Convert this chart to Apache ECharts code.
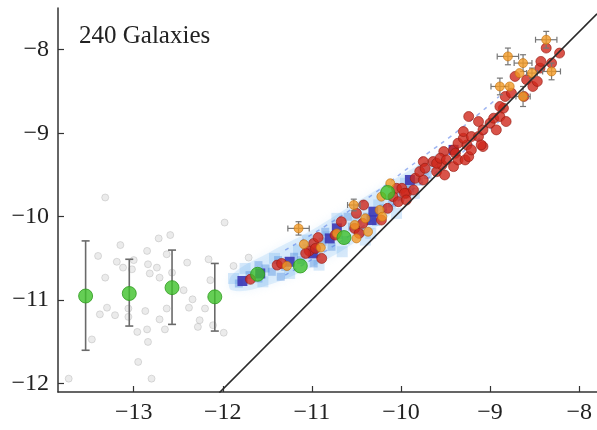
<!DOCTYPE html>
<html>
<head>
<meta charset="utf-8">
<script src="https://cdn.jsdelivr.net/npm/echarts@6/dist/echarts.min.js"></script>
<style>
  html, body { margin: 0; padding: 0; background: #fff; }
  #chart { width: 597px; height: 430px; }
</style>
</head>
<body>
<div id="chart"></div>
<script>
// tick labels
var xTicks = [-13, -12, -11, -10, -9, -8];
var yTicks = [-12, -11, -10, -9, -8];

// faint grey points (low acceleration)
var greyPts = [
  [-13.32, -9.77], [-11.98, -10.07], [-13.40, -10.47], [-13.15, -10.34], [-12.72, -10.26],
  [-12.59, -10.22], [-12.85, -10.41], [-13.19, -10.54], [-13.12, -10.61], [-13.02, -10.63],
  [-13.00, -10.52], [-12.84, -10.57], [-12.74, -10.61], [-12.82, -10.68], [-12.71, -10.73],
  [-13.32, -10.73], [-12.63, -10.45], [-12.40, -10.55], [-12.16, -10.51], [-11.88, -10.59],
  [-12.44, -10.88], [-12.57, -10.67], [-13.30, -11.09], [-13.38, -11.17], [-13.21, -11.18],
  [-13.06, -11.10], [-13.06, -11.20], [-12.87, -11.13], [-12.85, -11.35], [-12.96, -11.38],
  [-12.71, -11.23], [-12.65, -11.35], [-12.63, -11.10], [-12.38, -11.09], [-12.34, -10.99],
  [-12.20, -11.10], [-12.26, -11.24], [-12.28, -11.32], [-12.11, -11.30], [-11.99, -11.39],
  [-12.84, -11.50], [-13.47, -11.47], [-12.95, -11.74], [-13.73, -11.94], [-12.80, -11.94],
  [-12.14, -10.76], [-11.71, -10.49]
];

// binned green means with error bars
var greenX = [-13.54, -13.05, -12.57, -12.09, -11.61, -11.13, -10.64, -10.15];
var greenY = [-10.95, -10.92, -10.85, -10.96, -10.69, -10.59, -10.25, -9.71];
var greenLo = [-11.60, -11.31, -11.29, -11.37, null, null, null, null];
var greenHi = [-10.29, -10.51, -10.40, -10.56, null, null, null, null];

// red points
var redPts = [
  [-11.69, -10.75], [-11.39, -10.58], [-11.34, -10.56], [-11.03, -10.41], [-10.98, -10.32],
  [-10.93, -10.25], [-11.07, -10.44], [-10.96, -10.38], [-10.89, -10.50], [-10.74, -10.22],
  [-10.67, -10.06], [-10.50, -9.96], [-10.42, -9.86], [-10.43, -10.08], [-10.52, -10.14],
  [-10.47, -10.20], [-10.22, -10.04], [-10.15, -9.90], [-10.09, -9.76], [-10.05, -9.66],
  [-9.99, -9.66], [-9.94, -9.72], [-10.03, -9.82], [-9.96, -9.72], [-9.94, -9.80],
  [-9.86, -9.68], [-9.84, -9.54], [-9.75, -9.56], [-9.79, -9.46], [-9.60, -9.46],
  [-9.51, -9.50], [-9.54, -9.38], [-9.64, -9.34], [-9.75, -9.34], [-9.73, -9.42],
  [-9.60, -9.36], [-9.52, -9.22], [-9.56, -9.30], [-9.49, -9.32], [-9.41, -9.40],
  [-9.41, -9.20], [-9.39, -9.24], [-9.36, -9.12], [-9.36, -9.32], [-9.28, -9.32],
  [-9.26, -9.14], [-9.30, -9.06], [-9.30, -8.98], [-9.21, -9.04], [-9.24, -9.28],
  [-9.21, -9.20], [-9.13, -9.04], [-9.08, -9.16], [-9.10, -9.14], [-9.08, -8.96],
  [-9.13, -8.86], [-9.24, -8.80], [-9.00, -8.88], [-8.96, -8.82], [-8.93, -8.96],
  [-8.89, -8.80], [-8.85, -8.70], [-8.82, -8.86], [-8.89, -8.68], [-8.83, -8.56],
  [-8.76, -8.52], [-8.72, -8.32], [-8.59, -8.36], [-8.52, -8.44], [-8.47, -8.38],
  [-8.62, -8.56], [-8.44, -8.22], [-8.43, -8.14], [-8.31, -8.16], [-8.22, -8.04],
  [-8.37, -7.98]
];

// orange points: x, y, x error, y error
var orangePts = [
  [-11.15, -10.14, 0.12, 0.08], [-11.09, -10.33, 0, 0], [-11.28, -10.59, 0, 0],
  [-10.90, -10.37, 0, 0], [-10.72, -10.20, 0, 0], [-10.53, -9.86, 0.07, 0.07],
  [-10.52, -10.10, 0, 0], [-10.40, -10.02, 0, 0], [-10.37, -10.18, 0, 0],
  [-10.24, -9.92, 0, 0], [-10.22, -9.76, 0, 0], [-10.12, -9.60, 0, 0],
  [-10.50, -10.26, 0, 0], [-10.21, -10.00, 0, 0],
  [-8.37, -7.88, 0.12, 0.10], [-8.80, -8.08, 0.12, 0.10], [-8.63, -8.16, 0.10, 0.10],
  [-8.31, -8.26, 0.10, 0.10], [-8.53, -8.28, 0.06, 0.06], [-8.67, -8.28, 0, 0],
  [-8.89, -8.44, 0.10, 0.10], [-8.78, -8.44, 0, 0], [-8.63, -8.56, 0.08, 0.12]
];

// purple squares
var purplePts = [
  [-11.78, -10.77], [-11.58, -10.68], [-11.25, -10.54], [-10.99, -10.44], [-10.80, -10.26],
  [-10.72, -10.14], [-10.33, -10.04], [-10.31, -9.94], [-9.90, -9.56], [-9.41, -9.20]
];

// blue density cloud
var bandPoly = [
  [-11.90, -10.70], [-11.50, -10.44], [-11.00, -10.16], [-10.55, -9.86], [-10.15, -9.60],
  [-9.80, -9.38], [-9.50, -9.20], [-9.50, -9.30], [-9.80, -9.54], [-10.15, -10.00],
  [-10.55, -10.33], [-11.00, -10.60], [-11.50, -10.82], [-11.90, -10.88]
];
var bandCells = [
  [-11.82, -10.80], [-11.70, -10.70], [-11.60, -10.74], [-11.52, -10.62], [-11.45, -10.66],
  [-11.38, -10.52], [-11.30, -10.60], [-11.20, -10.48], [-11.12, -10.52], [-11.05, -10.38],
  [-10.95, -10.44], [-10.88, -10.30], [-10.78, -10.36], [-10.70, -10.22], [-10.62, -10.28],
  [-10.55, -10.12], [-10.45, -10.18], [-10.38, -10.00], [-10.28, -10.06], [-10.20, -9.90],
  [-10.10, -9.84], [-10.00, -9.76], [-9.90, -9.66], [-9.80, -9.58], [-9.70, -9.50],
  [-11.60, -10.58], [-11.35, -10.72], [-10.98, -10.56], [-10.60, -10.00], [-10.85, -10.18]
];
var bandHaze = [
  [-11.75, -10.62], [-11.55, -10.78], [-11.42, -10.50], [-11.25, -10.68], [-11.15, -10.40],
  [-10.92, -10.58], [-10.82, -10.24], [-10.66, -10.42], [-10.50, -10.04], [-10.34, -10.20],
  [-10.25, -9.86], [-10.05, -9.96], [-9.95, -9.60], [-9.75, -9.44], [-9.62, -9.40],
  [-11.88, -10.74], [-11.05, -10.28], [-10.72, -10.02], [-10.40, -10.28], [-9.85, -9.72]
];
var dashUpper = [[-11.30, -10.40], [-10.80, -10.08], [-10.30, -9.72], [-9.80, -9.32], [-9.30, -8.92], [-8.90, -8.56]];
var dashLower = [[-11.30, -10.70], [-10.80, -10.38], [-10.30, -10.02], [-9.80, -9.62], [-9.30, -9.22], [-8.90, -8.86]];

// one-to-one line
var oneToOne = [[-12.04, -12.11], [-7.80, -7.57]];

var minus = function (v) { return String(v).replace('-', '\u2212'); };
var axisFont = { fontFamily: 'Liberation Serif', fontSize: 24, color: '#222' };

var greenBars = [];
for (var i = 0; i < greenX.length; i++) {
  if (greenLo[i] !== null) greenBars.push([greenX[i], greenY[i], greenLo[i], greenHi[i]]);
}
var greenData = greenX.map(function (x, i) { return [x, greenY[i]]; });

var chart = echarts.init(document.getElementById('chart'));
var option = {
  animation: false,
  grid: { left: 58, right: 0, top: 8, bottom: 38 },
  xAxis: {
    type: 'value', min: -13.85, max: -7.8,
    axisLine: { onZero: false, lineStyle: { color: '#333', width: 1.5 } },
    axisTick: { inside: true, length: 6, customValues: xTicks, lineStyle: { color: '#333', width: 1.2 } },
    axisLabel: Object.assign({ customValues: xTicks, margin: 9, formatter: minus }, axisFont),
    splitLine: { show: false }
  },
  yAxis: {
    type: 'value', min: -12.1, max: -7.5,
    axisLine: { onZero: false, lineStyle: { color: '#333', width: 1.5 } },
    axisTick: { inside: true, length: 6, customValues: yTicks, lineStyle: { color: '#333', width: 1.2 } },
    axisLabel: Object.assign({ customValues: yTicks, margin: 9, formatter: minus }, axisFont),
    splitLine: { show: false }
  },
  graphic: [{
    type: 'text', left: 79, top: 24,
    style: { text: '240 Galaxies', fontFamily: 'Liberation Serif', fontSize: 25, fill: '#222' }
  }],
  series: [
    {
      type: 'custom', z: 1, silent: true,
      data: bandPoly,
      renderItem: function (params, api) {
        if (params.dataIndex !== 0) return null;
        return {
          type: 'polygon',
          shape: { points: bandPoly.map(function (p) { return api.coord(p); }), smooth: 0.4 },
          style: { fill: 'rgba(160,205,245,0.3)', shadowBlur: 8, shadowColor: 'rgba(160,205,245,0.6)' }
        };
      }
    },
    {
      type: 'scatter', z: 2, data: bandHaze, symbol: 'rect', symbolSize: 11,
      itemStyle: { color: 'rgba(90,165,235,0.3)' }
    },
    {
      type: 'scatter', z: 2, data: bandCells, symbol: 'rect', symbolSize: 8,
      itemStyle: { color: 'rgba(45,115,215,0.4)' }
    },
    {
      type: 'scatter', z: 2, data: greyPts, symbolSize: 7,
      itemStyle: { color: 'rgba(205,205,205,0.5)', borderColor: 'rgba(165,165,165,0.45)', borderWidth: 1 }
    },
    {
      type: 'line', z: 3, data: dashUpper, symbol: 'none', smooth: true,
      lineStyle: { color: 'rgba(80,120,230,0.55)', width: 1.5, type: [4, 5] }
    },
    {
      type: 'line', z: 3, data: dashLower, symbol: 'none', smooth: true,
      lineStyle: { color: 'rgba(80,120,230,0.55)', width: 1.5, type: [4, 5] }
    },
    {
      type: 'scatter', z: 4, data: purplePts, symbol: 'rect', symbolSize: 10,
      itemStyle: { color: '#3b37b5', opacity: 0.9 }
    },
    {
      type: 'scatter', z: 5, data: redPts, symbolSize: 10,
      itemStyle: { color: '#d0281c', borderColor: '#951a12', borderWidth: 0.8 }
    },
    {
      type: 'custom', z: 6, data: orangePts, encode: { x: 0, y: 1 },
      renderItem: function (params, api) {
        var x = api.value(0), y = api.value(1), ex = api.value(2), ey = api.value(3);
        if (!ex && !ey) return null;
        var l = api.coord([x - ex, y]), r = api.coord([x + ex, y]);
        var t = api.coord([x, y + ey]), b = api.coord([x, y - ey]);
        var st = { stroke: '#777', lineWidth: 1.2 };
        var c = 3;
        return {
          type: 'group',
          children: [
            { type: 'line', shape: { x1: l[0], y1: l[1], x2: r[0], y2: r[1] }, style: st },
            { type: 'line', shape: { x1: t[0], y1: t[1], x2: b[0], y2: b[1] }, style: st },
            { type: 'line', shape: { x1: l[0], y1: l[1] - c, x2: l[0], y2: l[1] + c }, style: st },
            { type: 'line', shape: { x1: r[0], y1: r[1] - c, x2: r[0], y2: r[1] + c }, style: st },
            { type: 'line', shape: { x1: t[0] - c, y1: t[1], x2: t[0] + c, y2: t[1] }, style: st },
            { type: 'line', shape: { x1: b[0] - c, y1: b[1], x2: b[0] + c, y2: b[1] }, style: st }
          ]
        };
      }
    },
    {
      type: 'scatter', z: 7, data: orangePts.map(function (p) { return [p[0], p[1]]; }), symbolSize: 9,
      itemStyle: { color: '#f39a24', borderColor: '#c0700f', borderWidth: 0.8 }
    },
    {
      type: 'line', z: 8, data: oneToOne, symbol: 'none',
      lineStyle: { color: '#2a2a2a', width: 1.6 }
    },
    {
      type: 'custom', z: 9, data: greenBars, encode: { x: 0, y: 1 },
      renderItem: function (params, api) {
        var x = api.value(0), lo = api.value(2), hi = api.value(3);
        var b = api.coord([x, lo]), t = api.coord([x, hi]);
        var st = { stroke: '#6a6a6a', lineWidth: 1.6 };
        var c = 4;
        return {
          type: 'group',
          children: [
            { type: 'line', shape: { x1: t[0], y1: t[1], x2: b[0], y2: b[1] }, style: st },
            { type: 'line', shape: { x1: t[0] - c, y1: t[1], x2: t[0] + c, y2: t[1] }, style: st },
            { type: 'line', shape: { x1: b[0] - c, y1: b[1], x2: b[0] + c, y2: b[1] }, style: st }
          ]
        };
      }
    },
    {
      type: 'scatter', z: 10, data: greenData, symbolSize: 14,
      itemStyle: { color: '#3fc22a', borderColor: '#2d9a1d', borderWidth: 1 }
    }
  ]
};
chart.setOption(option);
</script>
</body>
</html>
